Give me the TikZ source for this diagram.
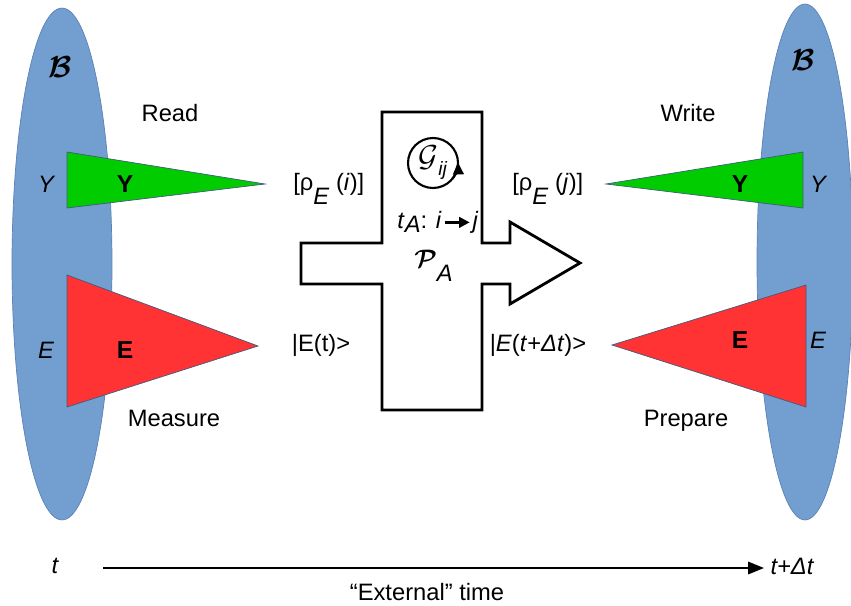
\documentclass[tikz,border=0pt]{standalone}
\usepackage{fontspec}
\setmainfont{Liberation Sans}
\usepackage{amsmath}
\usepackage{amssymb}
\usepackage{bm}
\usetikzlibrary{shapes.geometric, arrows.meta, positioning}
\definecolor{bathblue}{HTML}{729FCF}
\definecolor{bathedge}{HTML}{5B82B5}
\definecolor{ygreen}{HTML}{00CC00}
\definecolor{ered}{HTML}{FF3333}

\begin{document}
\begin{tikzpicture}[
    x=0.02cm, y=-0.02cm,
    bath/.style = {ellipse, draw=bathedge, fill=bathblue, inner sep=0pt},
    wedge/.style = {draw=bathedge!70!black, thin},
    lbl/.style = {font=\fontsize{13.5}{16}\selectfont},
    varlbl/.style = {font=\fontsize{13.5}{16}\selectfont\itshape},
    boldlbl/.style = {font=\fontsize{14}{16}\selectfont\bfseries},
    bathlbl/.style = {font=\fontsize{18}{20}\selectfont}
]
\useasboundingbox (0,0) rectangle (851,605);

% baths
\node [bath, minimum width=2cm, minimum height=10.24cm] (bathL) at (62,264) {};
\node [bath, minimum width=1.92cm, minimum height=10.32cm] (bathR) at (805,262) {};
\node [bathlbl] (bL) at (60,67) {$\bm{\mathcal{B}}$};
\node [bathlbl] (bR) at (803,60) {$\bm{\mathcal{B}}$};

% wedges
\filldraw[wedge, fill=ygreen] (67,152) -- (67,208) -- (265,184) -- cycle;
\filldraw[wedge, fill=ered] (67,275) -- (67,407) -- (258,346) -- cycle;
\filldraw[wedge, fill=ygreen] (803,152) -- (803,208) -- (606,184) -- cycle;
\filldraw[wedge, fill=ered] (806,285) -- (806,407) -- (612,345) -- cycle;

\node [boldlbl] (yL) at (125,184) {Y};
\node [boldlbl] (eL) at (125,350) {E};
\node [boldlbl] (yR) at (740,184) {Y};
\node [boldlbl] (eR) at (740,340) {E};
\node [varlbl] (yvL) at (46,184) {Y};
\node [varlbl] (evL) at (46,350) {E};
\node [varlbl] (yvR) at (818,184) {Y};
\node [varlbl] (evR) at (818,340) {E};

\node [lbl] (read) at (170,113) {Read};
\node [lbl] (write) at (688,113) {Write};
\node [lbl] (measure) at (174,418) {Measure};
\node [lbl] (prepare) at (686,421) {Prepare};

% process
\draw[line width=1.6pt, line join=miter, fill=white] (382,112) -- (482,112) -- (482,243)
    -- (510,243) -- (510,222) -- (580,263) -- (510,304) -- (510,284) -- (482,284)
    -- (482,410) -- (382,410) -- (382,284) -- (301,284) -- (301,243) -- (382,243) -- cycle;

\node [circle, draw, line width=1.2pt, minimum size=1cm, inner sep=0pt] (gij) at (433,163)
    {\fontsize{16}{18}\selectfont$\mathcal{G}$\raisebox{-0.6ex}{\fontsize{11}{12}\selectfont\textit{ij}}};
\draw[line width=1.2pt, -{Triangle[length=7pt, width=6pt]}]
    ([shift={(-40:0.5cm)}]gij.center) arc[start angle=-40, end angle=2, radius=0.5cm];

\node [lbl, anchor=base west, inner sep=0pt] (tA) at (397,228) {\textit{t}\raisebox{-2.8pt}{\textit{A}}: \textit{i}\kern1pt\tikz[baseline=-3.2pt]\draw[-{Triangle[length=6pt, width=6pt]}, line width=1.3pt] (0cm,0cm) -- (0.5cm,0cm);\kern1pt\textit{j}};
\node [anchor=base west, inner sep=0pt] (pA) at (414,267) {\fontsize{15}{18}\selectfont$\bm{\mathcal{P}}$\raisebox{-8.5pt}{\fontsize{13.5}{16}\selectfont\textit{A}}};

\node [lbl, anchor=base west, inner sep=0pt] (rhoi) at (293,190) {[ρ\raisebox{-8pt}{\textit{E}} (\textit{i})]};
\node [lbl, anchor=base west, inner sep=0pt] (rhoj) at (512,190) {[ρ\raisebox{-8pt}{\textit{E}} (\textit{j})]};
\node [lbl] (ketA) at (321,345) {|E(t)>};
\node [lbl] (ketB) at (538,345) {|\textit{E}(\textit{t}+\textit{Δt})>};

% external time
\node [varlbl] (t0) at (55,566) {t};
\node [varlbl] (t1) at (792,566) {t+Δt};
\coordinate (tstart) at (103,568);
\coordinate (tend) at (764,568);
\draw[line width=1.2pt, -{Triangle[length=9pt, width=7pt]}] (tstart) -- (tend);
\node [lbl] (ext) at (427,592) {“External” time};

\end{tikzpicture}
\end{document}
